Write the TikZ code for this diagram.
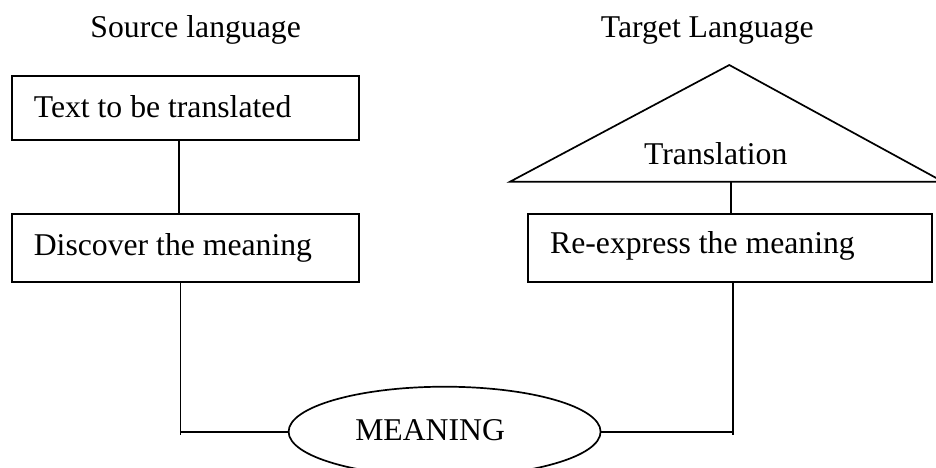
\documentclass[tikz,border=0pt]{standalone}
\usepackage{fontspec}
\setmainfont{Liberation Serif}
\usetikzlibrary{shapes.geometric}
\begin{document}
\begin{tikzpicture}[x=1pt,y=-1pt,
  line width=1.7pt,
  lbl/.style={inner sep=0pt,anchor=base west,font=\fontsize{31.7}{38}\selectfont},
  boxshape/.style={draw,rectangle,inner sep=0pt},
  conn/.style={draw,line width=1.7pt}]
\useasboundingbox (0,0) rectangle (936,467);
\clip (0,0) rectangle (936,467);
% headings
\node[lbl] (src) at (89.6,37.7) {Source language};
\node[lbl] (tgt) at (600,37.7) {Target Language};
% boxes
\node[boxshape,minimum width=347pt,minimum height=64pt] (box1) at (185.5,108) {};
\node[boxshape,minimum width=347pt,minimum height=68pt] (box2) at (185.5,248) {};
\node[boxshape,minimum width=403.4pt,minimum height=68pt] (box3) at (730,248) {};
\node[lbl] (t1) at (33,117.3) {Text to be translated};
\node[lbl] (t2) at (33,255) {Discover the meaning};
\node[lbl] (t3) at (549.3,253.3) {Re-express the meaning};
% triangle
\coordinate (triL) at (510,181.7);
\coordinate (triT) at (729.3,65);
\coordinate (triR) at (943,181.7);
\draw[line join=miter] (triL) -- (triT) -- (triR) -- cycle;
\node[lbl] (t4) at (643.3,164) {Translation};
\coordinate (tribase) at (730.7,181.7);
% ellipse
\node[draw,ellipse,inner sep=0pt,minimum width=312pt,minimum height=90pt] (mean) at (444.6,431.7) {};
\node[lbl] (t5) at (354.4,440.7) {MEANING};
% connectors
\coordinate (lc) at (180.5,435);
\coordinate (rc) at (732.7,435);
\draw[conn] ([xshift=-6.5pt]box1.south) -- ([xshift=-6.5pt]box2.north);
\draw[conn] (tribase) -- (tribase |- box3.north);
\draw[conn] ([xshift=-5pt]box2.south) -- (lc);
\draw[conn] (lc |- mean.west) -- (mean.west);
\draw[conn] ([xshift=2.7pt]box3.south) -- (rc);
\draw[conn] (rc |- mean.east) -- (mean.east);
\end{tikzpicture}
\end{document}
